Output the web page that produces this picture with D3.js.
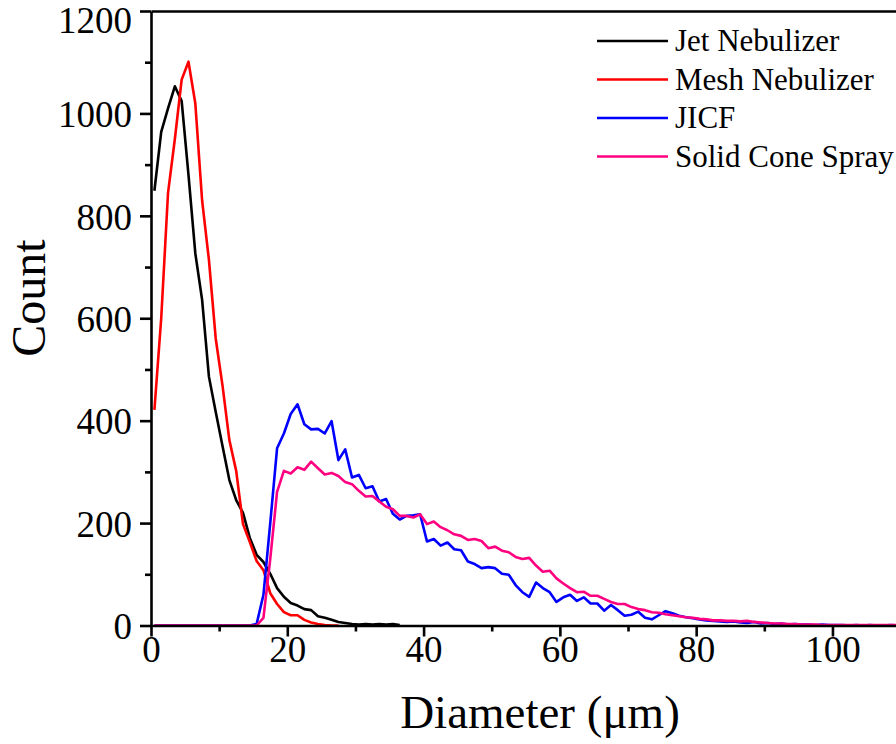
<!DOCTYPE html>
<html>
<head>
<meta charset="utf-8">
<script src="https://cdn.jsdelivr.net/npm/d3@7"></script>
<style>
  html, body { margin: 0; padding: 0; background: #fff; }
  svg { display: block; }
  text { font-family: "Liberation Serif", "Times New Roman", serif; fill: #000; }
</style>
</head>
<body>
<svg id="chart" width="896" height="744"></svg>
<script>
// ---- data (counts per 1 µm diameter bin, bin centres at 0.5, 1.5, ...) ----
const seriesNames = ["Jet Nebulizer", "Mesh Nebulizer", "JICF", "Solid Cone Spray"];
const seriesColors = ["#000000", "#ff0000", "#0000ff", "#ff0080"];

const jetNebulizer = [849, 964, 1010, 1053, 1024, 880, 727, 636, 486, 417, 350, 284, 245, 220, 171,
  138, 124, 101, 73, 56, 44, 39, 32, 30, 18, 15, 11, 7, 5, 3, 2, 3, 2, 3, 2, 3, 1];

const meshNebulizer = [421, 600, 845, 950, 1066, 1101, 1020, 830, 714, 560, 468, 362, 302, 198, 163,
  126, 108, 63, 42, 26, 20, 20, 11, 6, 3, 1, 0, 0];

const jicf = [0, 0, 0, 0, 0, 0, 0, 0, 0, 0, 0, 0, 0, 0, 0,
  3, 60, 200, 346, 375, 413, 432, 393, 383, 384, 375, 399, 323, 344, 289,
  294, 268, 272, 242, 247, 218, 207, 214, 215, 217, 164, 169, 156, 162, 149,
  147, 125, 120, 112, 114, 112, 101, 99, 79, 65, 56, 84, 73, 65, 46,
  55, 60, 48, 55, 43, 43, 29, 40, 30, 19, 21, 27, 15, 12, 20,
  28, 24, 19, 16, 14, 12, 10, 9, 8, 7, 8, 6, 5, 7, 4,
  5, 3, 4, 2, 3, 2, 2, 1, 2, 1, 1, 1, 0, 1, 0,
  1, 0, 0, 1, 0, 0];

const solidConeSpray = [0, 0, 0, 0, 0, 0, 0, 0, 0, 0, 0, 0, 0, 0, 0,
  0, 15, 130, 261, 302, 297, 309, 304, 320, 307, 295, 298, 292, 280, 276,
  263, 252, 253, 242, 232, 227, 214, 214, 211, 217, 198, 203, 192, 186, 178,
  175, 167, 169, 165, 151, 154, 146, 143, 134, 130, 132, 117, 105, 107, 92,
  82, 73, 65, 66, 58, 58, 52, 46, 42, 42, 36, 32, 30, 26, 25,
  22, 20, 18, 16, 15, 13, 12, 10, 10, 9, 9, 8, 9, 7, 6,
  5, 4, 4, 3, 3, 2, 2, 2, 1, 1, 1, 1, 1, 1, 1,
  1, 1, 1, 1, 1, 1];

const xTickValues = [0, 20, 40, 60, 80, 100];
const xMinorTickValues = [10, 30, 50, 70, 90, 110];
const yTickValues = [0, 200, 400, 600, 800, 1000, 1200];
const yMinorTickValues = [100, 300, 500, 700, 900, 1100];
const xTitle = "Diameter (μm)";
const yTitle = "Count";

// ---- chart ----
const svg = d3.select("#chart");
const x = d3.scaleLinear().domain([0, 110]).range([151, 900.6]);
const y = d3.scaleLinear().domain([0, 1200]).range([625.5, 11]);

const allSeries = [jetNebulizer, meshNebulizer, jicf, solidConeSpray];
const binCentre = i => i + 0.5;

const line = d3.line()
  .x((d, i) => x(binCentre(i)))
  .y(d => y(d));

svg.append("g").selectAll("path")
  .data(allSeries)
  .join("path")
  .attr("d", d => line(d))
  .attr("fill", "none")
  .attr("stroke", (d, i) => seriesColors[i])
  .attr("stroke-width", 2.6)
  .attr("stroke-linejoin", "round");

// axes
const axisW = 2.6;
const xAxis = svg.append("g").attr("transform", `translate(0,${y(0)})`)
  .call(d3.axisBottom(x).tickValues(xTickValues).tickSize(11).tickSizeOuter(0).tickPadding(4).tickFormat(d3.format("d")));
const xMinor = svg.append("g").attr("transform", `translate(0,${y(0)})`)
  .call(d3.axisBottom(x).tickValues(xMinorTickValues).tickSize(6).tickSizeOuter(0).tickFormat(""));
xMinor.select(".domain").remove();

const yAxis = svg.append("g").attr("transform", `translate(${x(0)},0)`)
  .call(d3.axisLeft(y).tickValues(yTickValues).tickSize(11).tickSizeOuter(0).tickPadding(8).tickFormat(d3.format("d")));
const yMinor = svg.append("g").attr("transform", `translate(${x(0)},0)`)
  .call(d3.axisLeft(y).tickValues(yMinorTickValues).tickSize(6).tickSizeOuter(0).tickFormat(""));
yMinor.select(".domain").remove();

// top frame
svg.append("g").attr("transform", `translate(0,${y(1200)})`)
  .call(d3.axisTop(x).tickValues([]).tickSizeOuter(0));

svg.selectAll(".domain, .tick line").attr("stroke", "#000").attr("stroke-width", axisW);

xAxis.selectAll(".tick text")
  .attr("font-size", 37).attr("font-family", "Liberation Serif")
  .attr("dy", null).attr("y", 36).attr("fill", "#000");
yAxis.selectAll(".tick text")
  .attr("font-size", 37).attr("font-family", "Liberation Serif")
  .attr("dy", d => d === 1200 ? "0.58em" : "0.36em").attr("fill", "#000");

// titles
svg.append("text")
  .attr("x", 540).attr("y", 728)
  .attr("text-anchor", "middle")
  .attr("font-size", 47)
  .text(xTitle);
svg.append("text")
  .attr("transform", "translate(45,298) rotate(-90)")
  .attr("text-anchor", "middle")
  .attr("font-size", 48)
  .text(yTitle);

// legend
const legend = svg.append("g");
const legendY = [41, 79.5, 118, 156.5];
seriesNames.forEach((name, i) => {
  const g = legend.append("g").attr("transform", `translate(0,${legendY[i]})`);
  g.append("line").attr("x1", 597).attr("x2", 668).attr("y1", 0).attr("y2", 0)
    .attr("stroke", seriesColors[i]).attr("stroke-width", 2.6);
  g.append("text").attr("x", 675).attr("y", 0).attr("dy", "0.33em")
    .attr("font-size", 31).text(name);
});
</script>
</body>
</html>
